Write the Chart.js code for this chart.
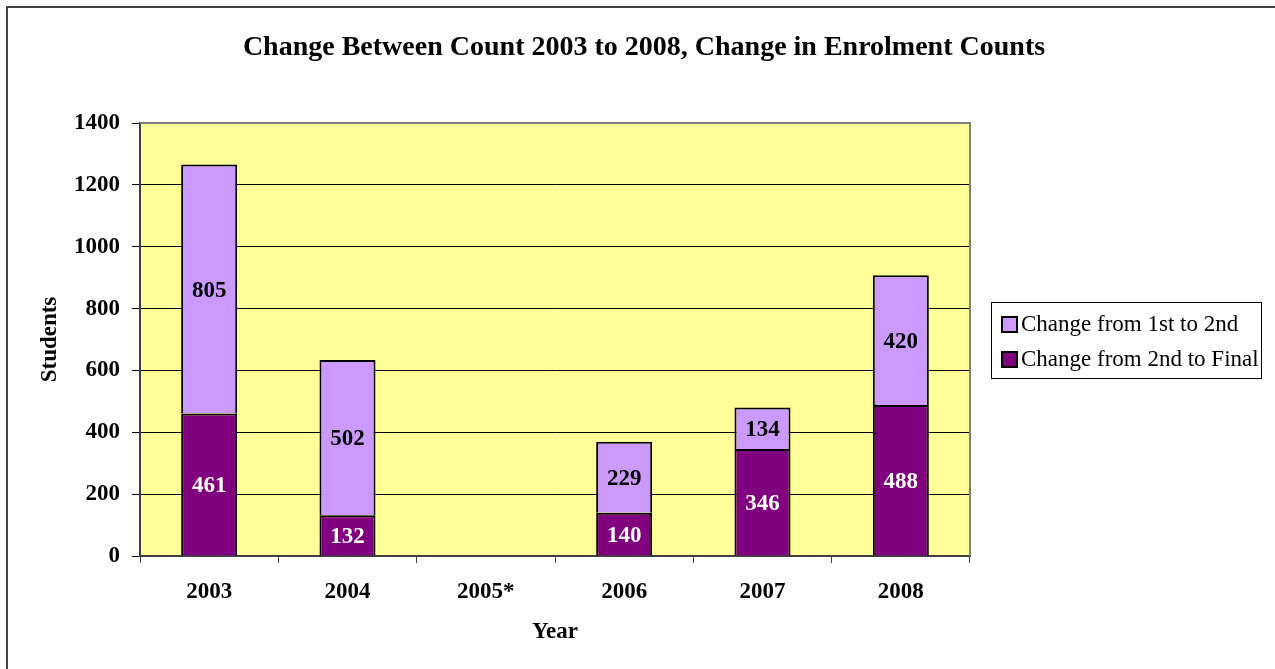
<!DOCTYPE html>
<html><head><meta charset="utf-8">
<script src="https://cdn.jsdelivr.net/npm/chart.js@4/dist/chart.umd.min.js"></script>
<style>html,body{margin:0;padding:0;background:#fff;overflow:hidden;}</style>
</head><body>
<canvas id="c" width="1275" height="669" style="display:block;width:1275px;height:669px"></canvas>
<script>
const categories = ['2003', '2004', '2005*', '2006', '2007', '2008'];
const changeSecondToFinal = [461, 132, null, 140, 346, 488];
const changeFirstToSecond = [805, 502, null, 229, 134, 420];
const yTickValues = [0, 200, 400, 600, 800, 1000, 1200, 1400];
const seriesNames = ['Change from 2nd to Final', 'Change from 1st to 2nd'];
const chartTitle = 'Change Between Count 2003 to 2008, Change in Enrolment Counts';
const xTitle = 'Year';
const yTitle = 'Students';

const SERIF = '"Liberation Serif", "Times New Roman", serif';
const DARK = '#800080', LIGHT = '#CC99FF', PLOT = '#FFFF99';

const decor = {
  id: 'decor',
  beforeDraw(chart) {
    const {ctx, chartArea: a} = chart;
    ctx.save();
    ctx.fillStyle = '#ffffff';
    ctx.fillRect(0, 0, chart.width, chart.height);
    ctx.fillStyle = PLOT;
    ctx.fillRect(a.left, a.top, a.right - a.left, a.bottom - a.top);
    ctx.restore();
  },
  afterDatasetsDraw(chart) {
    const {ctx} = chart;
    ctx.save();
    ctx.font = 'bold 23px ' + SERIF;
    ctx.textAlign = 'center';
    ctx.textBaseline = 'middle';
    chart.data.datasets.forEach((ds, di) => {
      const meta = chart.getDatasetMeta(di);
      meta.data.forEach((el, i) => {
        const v = ds.data[i];
        if (v === null || v === undefined) return;
        const p = el.getProps(['x', 'y', 'base'], true);
        ctx.fillStyle = ds.labelColor;
        ctx.fillText(String(v), p.x, (p.y + p.base) / 2 + 2);
      });
    });
    ctx.restore();
  },
  afterDraw(chart) {
    const {ctx, chartArea: a} = chart;
    ctx.save();
    // plot border
    ctx.strokeStyle = '#808080';
    ctx.lineWidth = 2;
    ctx.beginPath();
    ctx.moveTo(a.left, a.top); ctx.lineTo(a.right, a.top); ctx.lineTo(a.right, a.bottom);
    ctx.stroke();
    // outer frame
    ctx.strokeStyle = '#404040';
    ctx.lineWidth = 2;
    ctx.strokeRect(7, 7, 1400, 800);
    // title
    ctx.fillStyle = '#000';
    ctx.font = 'bold 28px ' + SERIF;
    ctx.textAlign = 'center';
    ctx.textBaseline = 'alphabetic';
    ctx.fillText(chartTitle, 644, 55);
    // legend
    ctx.strokeStyle = '#000';
    ctx.lineWidth = 1;
    ctx.strokeRect(991.5, 302.5, 270, 76);
    ctx.font = '23px ' + SERIF;
    ctx.textAlign = 'left';
    ctx.textBaseline = 'middle';
    const order = [1, 0];
    order.forEach((di, row) => {
      const ds = chart.data.datasets[di];
      const cy = 324 + row * 35;
      ctx.fillStyle = ds.backgroundColor;
      ctx.fillRect(1002, cy - 7, 15, 15);
      ctx.lineWidth = 2;
      ctx.strokeStyle = '#000';
      ctx.strokeRect(1002, cy - 7, 15, 15);
      ctx.fillStyle = '#000';
      ctx.fillText(ds.label, 1021, cy + 1);
    });
    ctx.restore();
  }
};

new Chart(document.getElementById('c'), {
  type: 'bar',
  data: {
    labels: categories,
    datasets: [
      {label: seriesNames[0], data: changeSecondToFinal, backgroundColor: DARK, borderColor: '#000', borderWidth: 2, borderSkipped: 'start', labelColor: '#ffffff'},
      {label: seriesNames[1], data: changeFirstToSecond, backgroundColor: LIGHT, borderColor: '#000', borderWidth: 2, borderSkipped: 'start', labelColor: '#000000'}
    ]
  },
  options: {
    responsive: false,
    animation: false,
    devicePixelRatio: 1,
    layout: {padding: {top: 123, right: 305, left: 0, bottom: 0}},
    datasets: {bar: {categoryPercentage: 1, barPercentage: 0.405}},
    plugins: {legend: {display: false}, title: {display: false}, tooltip: {enabled: false}},
    scales: {
      x: {
        stacked: true,
        afterFit(s) { s.height = 113; },
        grid: {offset: true, drawOnChartArea: false, drawTicks: true, tickLength: 7, color: '#404040', lineWidth: 1},
        border: {display: true, color: '#404040', width: 2},
        ticks: {color: '#000', font: {family: SERIF, size: 23, weight: 'bold'}, padding: 15, maxRotation: 0},
        title: {display: true, text: xTitle, color: '#000', font: {family: SERIF, size: 23, weight: 'bold'}, padding: 23}
      },
      y: {
        stacked: true,
        min: 0, max: 1400,
        afterFit(s) { s.width = 140; },
        afterBuildTicks(s) { s.ticks = yTickValues.map(v => ({value: v})); },
        grid: {color: '#000', lineWidth: 1, tickLength: 8},
        border: {display: true, color: '#404040', width: 2},
        ticks: {color: '#000', font: {family: SERIF, size: 23, weight: 'bold'}, padding: 12, callback: v => String(v)},
        title: {display: true, text: yTitle, color: '#000', font: {family: SERIF, size: 23, weight: 'bold'}, padding: 36}
      }
    }
  },
  plugins: [decor]
});
</script>
</body></html>
